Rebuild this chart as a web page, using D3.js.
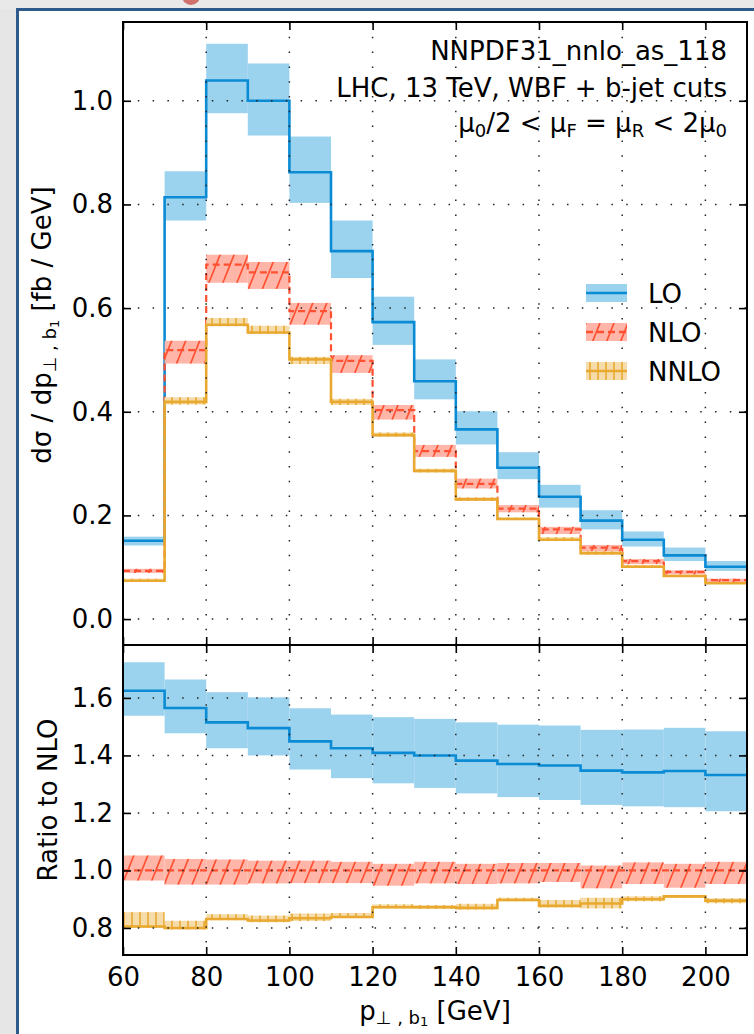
<!DOCTYPE html>
<html>
<head>
<meta charset="utf-8">
<script src="https://cdn.jsdelivr.net/npm/d3@7"></script>
<style>
  body { margin: 0; background: #fff; }
  svg { display: block; }
  text { font-family: "DejaVu Sans", sans-serif; }
</style>
</head>
<body>
<div id="chart"></div>
<script>
// bin edges in GeV (15 bins of 10 GeV)
const binEdges = [60, 70, 80, 90, 100, 110, 120, 130, 140, 150, 160, 170, 180, 190, 200, 210];

// dσ/dp [fb/GeV] : central value and scale band
const loCentral   = [0.151, 0.814, 1.039, 1.000, 0.862, 0.710, 0.573, 0.459, 0.366, 0.292, 0.236, 0.190, 0.153, 0.123, 0.101];
const loDown      = [0.142, 0.769, 0.976, 0.933, 0.803, 0.658, 0.529, 0.424, 0.337, 0.270, 0.215, 0.173, 0.140, 0.112, 0.093];
const loUp        = [0.159, 0.864, 1.110, 1.072, 0.931, 0.769, 0.622, 0.501, 0.401, 0.322, 0.259, 0.210, 0.169, 0.138, 0.112];

const nloCentral  = [0.093, 0.519, 0.684, 0.669, 0.594, 0.498, 0.403, 0.324, 0.261, 0.213, 0.173, 0.138, 0.112, 0.091, 0.075];
const nloDown     = [0.089, 0.493, 0.649, 0.637, 0.568, 0.475, 0.385, 0.313, 0.252, 0.206, 0.164, 0.128, 0.106, 0.086, 0.071];
const nloUp       = [0.097, 0.537, 0.703, 0.689, 0.610, 0.509, 0.413, 0.336, 0.271, 0.220, 0.178, 0.143, 0.116, 0.094, 0.078];

const nnloCentral = [0.074, 0.419, 0.568, 0.553, 0.501, 0.419, 0.355, 0.286, 0.231, 0.193, 0.153, 0.127, 0.101, 0.083, 0.069];
const nnloDown    = [0.073, 0.414, 0.565, 0.550, 0.492, 0.413, 0.352, 0.283, 0.228, 0.191, 0.151, 0.124, 0.100, 0.082, 0.068];
const nnloUp      = [0.078, 0.428, 0.581, 0.566, 0.506, 0.425, 0.360, 0.290, 0.235, 0.196, 0.158, 0.131, 0.104, 0.085, 0.071];

// ratios to the NLO central value
const loRatio       = [1.625, 1.565, 1.515, 1.495, 1.449, 1.425, 1.409, 1.400, 1.382, 1.370, 1.365, 1.347, 1.341, 1.346, 1.332];
const loRatioDown   = [1.538, 1.477, 1.425, 1.400, 1.351, 1.321, 1.303, 1.287, 1.268, 1.255, 1.245, 1.228, 1.223, 1.220, 1.206];
const loRatioUp     = [1.724, 1.664, 1.620, 1.602, 1.564, 1.542, 1.533, 1.527, 1.515, 1.507, 1.504, 1.489, 1.490, 1.496, 1.484];

const nloRatio      = [1, 1, 1, 1, 1, 1, 1, 1, 1, 1, 1, 1, 1, 1, 1];
const nloRatioDown  = [0.965, 0.951, 0.951, 0.955, 0.956, 0.956, 0.947, 0.955, 0.953, 0.955, 0.960, 0.938, 0.953, 0.940, 0.953];
const nloRatioUp    = [1.052, 1.040, 1.038, 1.034, 1.034, 1.030, 1.023, 1.030, 1.023, 1.026, 1.026, 1.017, 1.028, 1.023, 1.030];

const nnloRatio     = [0.805, 0.800, 0.831, 0.826, 0.834, 0.838, 0.872, 0.872, 0.870, 0.897, 0.877, 0.885, 0.900, 0.910, 0.895];
const nnloRatioDown = [0.800, 0.795, 0.827, 0.820, 0.824, 0.835, 0.868, 0.866, 0.864, 0.893, 0.872, 0.868, 0.893, 0.905, 0.886];
const nnloRatioUp   = [0.855, 0.825, 0.848, 0.843, 0.850, 0.852, 0.882, 0.880, 0.884, 0.905, 0.897, 0.905, 0.910, 0.915, 0.903];

const xTicks = [60, 80, 100, 120, 140, 160, 180, 200];
const yMainTicks = [0.0, 0.2, 0.4, 0.6, 0.8, 1.0];
const yRatioTicks = [0.8, 1.0, 1.2, 1.4, 1.6];

const W = 754, H = 1034;
const plotLeft = 123, plotRight = 747, plotTop = 22, plotSplit = 645, plotBottom = 955;
const FS = 26;

const col = {
    lo: "#0b8bd3", loBand: "#9bd2ee",
    nlo: "#ff5131", nloBand: "#ffb5a8",
    nnlo: "#e9a930", nnloBand: "#f6dcab"
};

const svg = d3.select("#chart").append("svg")
    .attr("width", W)
    .attr("height", H);

// surrounding frame (grey backdrop + blue border)
svg.append("rect").attr("width", W).attr("height", H).attr("fill", "#fff");
svg.append("rect").attr("x", 0).attr("y", 0).attr("width", 16).attr("height", H).attr("fill", "#e6e6e6");
svg.append("rect").attr("x", 0).attr("y", 0).attr("width", W).attr("height", 9).attr("fill", "#e9e9e9");
svg.append("circle").attr("cx", 191).attr("cy", -4).attr("r", 9).attr("fill", "#c9534c").attr("opacity", 0.8);
svg.append("rect").attr("x", 16).attr("y", 8).attr("width", 3).attr("height", H).attr("fill", "#2c5a8c");
svg.append("rect").attr("x", 16).attr("y", 8).attr("width", W - 16).attr("height", 3).attr("fill", "#2c5a8c");

const defs = svg.append("defs");

// hatches
defs.append("pattern")
    .attr("id", "hatchDiag")
    .attr("patternUnits", "userSpaceOnUse")
    .attr("width", 14).attr("height", 35)
    .append("path")
    .attr("d", "M-14,35L0,0M0,35L14,0M14,35L28,0")
    .attr("stroke", col.nlo)
    .attr("stroke-width", 1.7);

defs.append("pattern")
    .attr("id", "hatchVert")
    .attr("patternUnits", "userSpaceOnUse")
    .attr("width", 8).attr("height", 10)
    .append("path")
    .attr("d", "M4,0V10")
    .attr("stroke", col.nnlo)
    .attr("stroke-width", 1.6);

defs.append("clipPath").attr("id", "clipMain")
    .append("rect").attr("x", plotLeft).attr("y", plotTop)
    .attr("width", plotRight - plotLeft).attr("height", plotSplit - plotTop);
defs.append("clipPath").attr("id", "clipRatio")
    .append("rect").attr("x", plotLeft).attr("y", plotSplit)
    .attr("width", plotRight - plotLeft).attr("height", plotBottom - plotSplit);

const x = d3.scaleLinear().domain([60, 210]).range([plotLeft, plotRight]);
const yMain = d3.scaleLinear().domain([-0.05, 1.152]).range([plotSplit, plotTop]);
const yRatio = d3.scaleLinear().domain([0.706, 1.784]).range([plotBottom, plotSplit]);

function drawBand(g, y, lo, hi, fill, hatch) {
    const bins = lo.map((v, i) => ({x0: binEdges[i], x1: binEdges[i + 1], lo: v, hi: hi[i]}));
    g.append("g").selectAll("rect")
        .data(bins)
        .enter().append("rect")
        .attr("x", d => x(d.x0))
        .attr("width", d => x(d.x1) - x(d.x0))
        .attr("y", d => y(d.hi))
        .attr("height", d => y(d.lo) - y(d.hi))
        .attr("fill", fill);
    if (hatch) {
        g.append("g").selectAll("rect")
            .data(bins)
            .enter().append("rect")
            .attr("x", d => x(d.x0))
            .attr("width", d => x(d.x1) - x(d.x0))
            .attr("y", d => y(d.hi))
            .attr("height", d => y(d.lo) - y(d.hi))
            .attr("fill", "url(#" + hatch + ")");
    }
}

function drawStep(g, y, vals, color, width, dash) {
    const pts = vals.map((v, i) => [binEdges[i], v]);
    pts.push([binEdges[binEdges.length - 1], vals[vals.length - 1]]);
    const line = d3.line()
        .x(d => x(d[0]))
        .y(d => y(d[1]))
        .curve(d3.curveStepAfter);
    g.append("path")
        .datum(pts)
        .attr("d", line)
        .attr("fill", "none")
        .attr("stroke", color)
        .attr("stroke-width", width)
        .attr("stroke-dasharray", dash || null);
}

function drawGrid(g, y, yTicks, y0, y1) {
    g.append("g").selectAll("line")
        .data(yTicks)
        .enter().append("line")
        .attr("x1", plotLeft).attr("x2", plotRight)
        .attr("y1", d => y(d)).attr("y2", d => y(d));
    g.append("g").selectAll("line")
        .data(xTicks.filter(t => t > 60))
        .enter().append("line")
        .attr("x1", d => x(d)).attr("x2", d => x(d))
        .attr("y1", y0).attr("y2", y1);
    g.selectAll("line")
        .attr("stroke", "#222")
        .attr("stroke-width", 1.5)
        .attr("stroke-dasharray", "1.5,13.3");
}

function styleAxis(sel) {
    sel.select(".domain").remove();
    sel.selectAll(".tick line").attr("stroke", "#000").attr("stroke-width", 1.6);
    sel.selectAll("text").attr("fill", "#000");
    sel.attr("font-size", FS).attr("font-family", "DejaVu Sans");
}

function drawAxes(y, yTicks, y0, y1, showX) {
    svg.append("g")
        .attr("transform", `translate(${plotLeft},0)`)
        .call(d3.axisLeft(y).tickValues(yTicks).tickSize(-8).tickPadding(10).tickFormat(d3.format(".1f")))
        .call(styleAxis);
    svg.append("g")
        .attr("transform", `translate(${plotRight},0)`)
        .call(d3.axisRight(y).tickValues(yTicks).tickSize(-8).tickFormat(""))
        .call(styleAxis);
    svg.append("g")
        .attr("transform", `translate(0,${y0})`)
        .call(d3.axisTop(x).tickValues(xTicks).tickSize(-8).tickFormat(""))
        .call(styleAxis);
    svg.append("g")
        .attr("transform", `translate(0,${y1})`)
        .call(d3.axisBottom(x).tickValues(xTicks).tickSize(-8).tickPadding(13)
            .tickFormat(showX ? d3.format("d") : ""))
        .call(styleAxis);
    svg.append("rect")
        .attr("x", plotLeft).attr("y", y0)
        .attr("width", plotRight - plotLeft).attr("height", y1 - y0)
        .attr("fill", "none")
        .attr("stroke", "#000")
        .attr("stroke-width", 2);
}

// upper panel: distributions
const gMain = svg.append("g").attr("clip-path", "url(#clipMain)");
drawBand(gMain, yMain, loDown, loUp, col.loBand);
drawStep(gMain, yMain, loCentral, col.lo, 2.6);
drawBand(gMain, yMain, nloDown, nloUp, col.nloBand, "hatchDiag");
drawStep(gMain, yMain, nloCentral, col.nlo, 2.2, "7,4");
drawBand(gMain, yMain, nnloDown, nnloUp, col.nnloBand, "hatchVert");
drawStep(gMain, yMain, nnloCentral, col.nnlo, 2.6);
drawGrid(gMain.append("g"), yMain, yMainTicks, plotTop, plotSplit);

// lower panel: ratio to NLO
const gRatio = svg.append("g").attr("clip-path", "url(#clipRatio)");
drawBand(gRatio, yRatio, loRatioDown, loRatioUp, col.loBand);
drawStep(gRatio, yRatio, loRatio, col.lo, 2.6);
drawBand(gRatio, yRatio, nloRatioDown, nloRatioUp, col.nloBand, "hatchDiag");
drawStep(gRatio, yRatio, nloRatio, col.nlo, 2.2, "7,4");
drawBand(gRatio, yRatio, nnloRatioDown, nnloRatioUp, col.nnloBand, "hatchVert");
drawStep(gRatio, yRatio, nnloRatio, col.nnlo, 2.6);
drawGrid(gRatio.append("g"), yRatio, yRatioTicks, plotSplit, plotBottom);

drawAxes(yMain, yMainTicks, plotTop, plotSplit, false);
drawAxes(yRatio, yRatioTicks, plotSplit, plotBottom, true);

// annotation block, top right
const note = svg.append("g").attr("font-size", FS).attr("text-anchor", "end");
note.append("text").attr("x", 727).attr("y", 60).text("NNPDF31_nnlo_as_118");
note.append("text").attr("x", 727).attr("y", 96.5).text("LHC, 13 TeV, WBF + b-jet cuts");
const mu = note.append("text").attr("x", 727).attr("y", 132);
[["μ", 0], ["0", 1], ["/2 < μ", 0], ["F", 1], [" = μ", 0], ["R", 1], [" < 2μ", 0], ["0", 1]].forEach((p, i, arr) => {
    const prevSub = i > 0 && arr[i - 1][1];
    const dy = p[1] ? 5 : (prevSub ? -5 : 0);
    mu.append("tspan").attr("dy", dy).attr("font-size", p[1] ? 18 : FS).text(p[0]);
});

// legend
const legendItems = [
    {label: "LO", line: col.lo, band: col.loBand, hatch: null, dash: null},
    {label: "NLO", line: col.nlo, band: col.nloBand, hatch: "hatchDiag", dash: "7,4"},
    {label: "NNLO", line: col.nnlo, band: col.nnloBand, hatch: "hatchVert", dash: null}
];
const legend = svg.append("g").attr("transform", "translate(586,284)");
legendItems.forEach((d, i) => {
    const row = legend.append("g").attr("transform", `translate(0,${i * 39})`);
    row.append("rect").attr("width", 41).attr("height", 18).attr("fill", d.band);
    if (d.hatch) row.append("rect").attr("width", 41).attr("height", 18).attr("fill", `url(#${d.hatch})`);
    row.append("line").attr("x1", 0).attr("x2", 41).attr("y1", 9).attr("y2", 9)
        .attr("stroke", d.line).attr("stroke-width", 2.6).attr("stroke-dasharray", d.dash);
    row.append("text").attr("x", 62).attr("y", 18.5).attr("font-size", FS).text(d.label);
});

// axis titles
const ylab = svg.append("text")
    .attr("transform", "translate(51,325) rotate(-90)")
    .attr("text-anchor", "middle")
    .attr("font-size", FS);
ylab.append("tspan").text("dσ / dp");
ylab.append("tspan").attr("dy", 5).attr("font-size", 18).text("⊥ , b");
ylab.append("tspan").attr("dy", 3).attr("font-size", 13).text("1");
ylab.append("tspan").attr("dy", -8).text(" [fb / GeV]");

svg.append("text")
    .attr("transform", "translate(57,800) rotate(-90)")
    .attr("text-anchor", "middle")
    .attr("font-size", FS)
    .text("Ratio to NLO");

const xlab = svg.append("text")
    .attr("x", (plotLeft + plotRight) / 2)
    .attr("y", 1020)
    .attr("text-anchor", "middle")
    .attr("font-size", FS);
xlab.append("tspan").text("p");
xlab.append("tspan").attr("dy", 4).attr("font-size", 18).text("⊥ , b");
xlab.append("tspan").attr("dy", 2).attr("font-size", 13).text("1");
xlab.append("tspan").attr("dy", -6).text(" [GeV]");
</script>
</body>
</html>
